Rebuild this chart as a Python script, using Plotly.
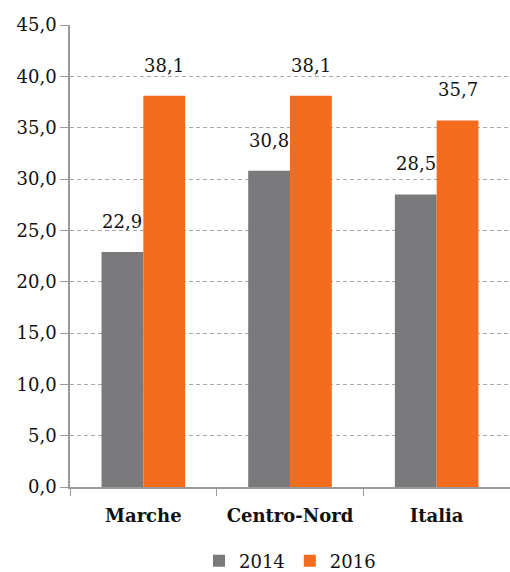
import plotly.graph_objects as go

categories = ["Marche", "Centro-Nord", "Italia"]
values_2014 = [22.9, 30.8, 28.5]
values_2016 = [38.1, 38.1, 35.7]
series_names = ["2014", "2016"]
y_ticks = [0, 5, 10, 15, 20, 25, 30, 35, 40, 45]

GRAY = "#7a7a7c"
ORANGE = "#f36c1d"
FONT = "DejaVu Serif"

fig = go.Figure()
fig.add_trace(go.Bar(name=series_names[0], x=categories, y=values_2014,
                     marker=dict(color=GRAY, line=dict(width=0))))
fig.add_trace(go.Bar(name=series_names[1], x=categories, y=values_2016,
                     marker=dict(color=ORANGE, line=dict(width=0))))

annotations = []
for vals, shift in ((values_2014, -21), (values_2016, 21)):
    for c, v in zip(categories, vals):
        annotations.append(dict(x=c, y=v, xref="x", yref="y", text=f"{v:.1f}".replace(".", ","),
                                showarrow=False, xshift=shift, yshift=18, yanchor="bottom",
                                font=dict(family=FONT, size=18, color="#111")))

fig.update_layout(
    width=510, height=572,
    margin=dict(l=70, r=0, t=25, b=85, autoexpand=False),
    paper_bgcolor="white", plot_bgcolor="white",
    barmode="group", bargap=0.43, bargroupgap=0,
    separators=",.",
    font=dict(family=FONT, size=18, color="#111"),
    showlegend=True,
    legend=dict(orientation="h", x=0.5, xanchor="center", y=-0.12, yanchor="top",
                font=dict(family=FONT, size=18, color="#111"), itemwidth=30,
                traceorder="normal"),
    annotations=annotations,
    xaxis=dict(showline=True, linecolor="#9a9a9a", linewidth=1.5, automargin=False,
               ticks="outside", tickson="boundaries", ticklen=7, tickcolor="#9a9a9a",
               ticklabelstandoff=12,
               tickfont=dict(family=FONT, size=18, color="#111", weight="bold"),
               showgrid=False),
    yaxis=dict(range=[0, 45], tickvals=y_ticks, tickformat=".1f", automargin=False,
               showline=True, linecolor="#9a9a9a", linewidth=1.5,
               ticks="outside", ticklen=8, tickcolor="#9a9a9a",
               showgrid=True, gridcolor="#a8a8a8", griddash="4px,3px", gridwidth=1,
               zeroline=False,
               tickfont=dict(family=FONT, size=18, color="#111")),
)

fig.write_html("out.html")
